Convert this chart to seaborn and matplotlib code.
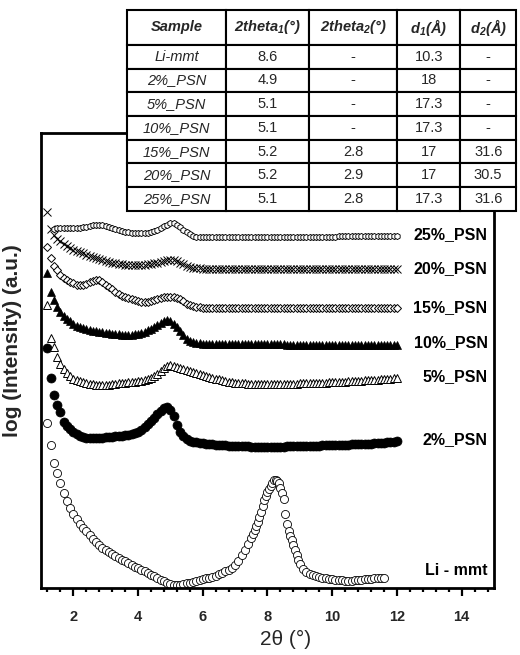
import numpy as np
import pandas as pd
import matplotlib
matplotlib.use("Agg")
import matplotlib.pyplot as plt
from matplotlib.ticker import MultipleLocator
import seaborn as sns

sns.set_theme(style="ticks")
plt.rcParams["font.family"] = ["Liberation Sans", "DejaVu Sans"]
plt.rcParams["mathtext.default"] = "regular"

# ---------------- XRD patterns (log intensity, stacked, a.u.) ----------------
li_x = np.round(np.r_[np.arange(1.2, 7.45, 0.1),
                      np.arange(7.5, 9.025, 0.05),
                      np.arange(9.1, 11.65, 0.1)], 2)
li_y = [16.5, 14.3, 12.5, 11.5, 10.5, 9.5, 8.7, 8.0, 7.4, 6.9,
        6.4, 6.0, 5.7, 5.3, 4.9, 4.6, 4.3, 4.0, 3.8, 3.6,
        3.4, 3.2, 3.0, 2.8, 2.7, 2.5, 2.3, 2.1, 2.0, 1.8,
        1.7, 1.5, 1.3, 1.2, 1.0, 0.8, 0.7, 0.5, 0.4, 0.3,
        0.3, 0.3, 0.4, 0.5, 0.5, 0.6, 0.7, 0.8, 0.9, 1.0,
        1.0, 1.1, 1.2, 1.4, 1.5, 1.7, 1.8, 2.0, 2.3, 2.7,
        3.3, 3.8, 4.4,
        5.0, 5.4, 5.8, 6.2, 6.6, 7.1, 7.6, 8.2, 8.8, 9.2,
        9.6, 9.9, 10.2, 10.5, 10.8, 10.8, 10.7, 10.5, 10.0, 9.5,
        8.9, 7.4, 6.4, 5.7, 5.2, 4.8, 4.3, 3.8, 3.3, 2.8, 2.4,
        1.9, 1.6, 1.4, 1.3, 1.2, 1.1, 1.0, 1.0, 0.9, 0.9,
        0.8, 0.8, 0.8, 0.7, 0.7, 0.7, 0.8, 0.8, 0.8, 0.9,
        0.9, 0.9, 1.0, 1.0, 1.0, 1.0]

grid_x = np.round(np.arange(1.2, 12.05, 0.1), 2)
grid25_x = np.round(np.arange(1.4, 12.05, 0.1), 2)

psn2_y = [24.0, 21.0, 19.3, 18.3, 17.6, 16.6, 16.2, 15.9, 15.6, 15.4,
          15.2, 15.1, 15.0, 15.0, 15.0, 15.0, 15.0, 15.0, 15.1, 15.1,
          15.1, 15.2, 15.2, 15.2, 15.3, 15.3, 15.4, 15.5, 15.6, 15.8,
          16.1, 16.4, 16.7, 17.0, 17.4, 17.7, 18.0, 18.1, 17.8, 17.2,
          16.3, 15.6, 15.2, 14.9, 14.7, 14.6, 14.6, 14.5, 14.5, 14.4,
          14.4, 14.4, 14.3, 14.3, 14.3, 14.3, 14.2, 14.2, 14.2, 14.2,
          14.2, 14.2, 14.2, 14.1, 14.1, 14.1, 14.1, 14.1, 14.1, 14.1,
          14.1, 14.1, 14.1, 14.1, 14.2, 14.2, 14.2, 14.2, 14.2, 14.2,
          14.2, 14.2, 14.2, 14.2, 14.2, 14.3, 14.3, 14.3, 14.3, 14.3,
          14.3, 14.3, 14.3, 14.3, 14.4, 14.4, 14.4, 14.4, 14.4, 14.4,
          14.4, 14.5, 14.5, 14.5, 14.5, 14.6, 14.6, 14.6, 14.7]

psn5_y = [28.3, 25.0, 24.1, 23.1, 22.4, 21.9, 21.5, 21.2, 20.9, 20.8,
          20.7, 20.6, 20.5, 20.4, 20.4, 20.3, 20.3, 20.3, 20.3, 20.3,
          20.4, 20.4, 20.5, 20.5, 20.5, 20.6, 20.6, 20.6, 20.7, 20.7,
          20.8, 20.9, 21.0, 21.2, 21.4, 21.7, 22.0, 22.2, 22.3, 22.2,
          22.1, 22.0, 21.9, 21.8, 21.7, 21.6, 21.5, 21.4, 21.3, 21.2,
          21.1, 21.0, 20.9, 20.9, 20.8, 20.7, 20.6, 20.6, 20.5, 20.5,
          20.5, 20.5, 20.4, 20.4, 20.4, 20.4, 20.4, 20.4, 20.4, 20.4,
          20.4, 20.4, 20.4, 20.4, 20.4, 20.4, 20.4, 20.4, 20.5, 20.5,
          20.5, 20.5, 20.5, 20.5, 20.5, 20.5, 20.5, 20.6, 20.6, 20.6,
          20.6, 20.6, 20.6, 20.7, 20.7, 20.7, 20.7, 20.7, 20.8, 20.8,
          20.8, 20.8, 20.8, 20.9, 20.9, 20.9, 20.9, 21.0, 21.0]

psn10_y = [31.5, 29.6, 28.8, 28.1, 27.6, 27.2, 26.9, 26.7, 26.4, 26.2,
           26.1, 26.0, 25.9, 25.8, 25.7, 25.7, 25.6, 25.6, 25.5, 25.5,
           25.4, 25.4, 25.4, 25.3, 25.3, 25.3, 25.3, 25.4, 25.4, 25.5,
           25.6, 25.8, 25.9, 26.1, 26.3, 26.5, 26.7, 26.8, 26.7, 26.4,
           26.1, 25.7, 25.3, 24.9, 24.7, 24.6, 24.5, 24.5, 24.4, 24.4,
           24.4, 24.4, 24.4, 24.4, 24.4, 24.4, 24.4, 24.4, 24.4, 24.4,
           24.4, 24.4, 24.4, 24.4, 24.4, 24.4, 24.4, 24.4, 24.4, 24.4,
           24.4, 24.4, 24.4, 24.4, 24.3, 24.3, 24.3, 24.3, 24.3, 24.3,
           24.3, 24.3, 24.3, 24.3, 24.3, 24.3, 24.3, 24.3, 24.3, 24.3,
           24.3, 24.3, 24.3, 24.3, 24.3, 24.3, 24.3, 24.3, 24.3, 24.3,
           24.3, 24.3, 24.3, 24.3, 24.3, 24.3, 24.3, 24.3, 24.3]

psn15_y = [34.1, 33.0, 32.2, 31.8, 31.3, 31.0, 30.8, 30.6, 30.5, 30.3,
           30.3, 30.3, 30.4, 30.6, 30.7, 30.8, 30.8, 30.6, 30.3, 30.1,
           29.9, 29.6, 29.4, 29.2, 29.1, 29.0, 28.9, 28.8, 28.7, 28.6,
           28.6, 28.6, 28.7, 28.8, 28.9, 29.0, 29.1, 29.1, 29.1, 29.1,
           29.0, 28.9, 28.7, 28.4, 28.3, 28.2, 28.1, 28.1, 28.0, 28.0,
           28.0, 28.0, 28.0, 28.0, 28.0, 28.0, 28.0, 28.0, 28.0, 28.0,
           28.0, 28.0, 28.0, 28.0, 28.0, 28.0, 28.0, 28.0, 28.0, 28.0,
           28.0, 28.0, 28.0, 28.0, 28.0, 28.0, 28.0, 28.0, 28.0, 28.0,
           28.0, 28.0, 28.0, 28.0, 28.0, 28.0, 28.0, 28.0, 28.0, 28.0,
           28.0, 28.0, 28.0, 28.0, 28.0, 28.0, 28.0, 28.0, 28.0, 28.0,
           28.0, 28.0, 28.0, 28.0, 28.0, 28.0, 28.0, 28.0, 28.0]

psn20_y = [37.6, 35.9, 35.3, 34.9, 34.7, 34.4, 34.2, 34.0, 33.8, 33.7,
           33.6, 33.5, 33.3, 33.2, 33.1, 33.0, 32.9, 32.8, 32.7, 32.6,
           32.5, 32.5, 32.4, 32.4, 32.3, 32.3, 32.3, 32.3, 32.3, 32.3,
           32.3, 32.4, 32.4, 32.5, 32.5, 32.6, 32.7, 32.8, 32.8, 32.8,
           32.7, 32.5, 32.4, 32.2, 32.1, 32.0, 32.0, 32.0, 31.9, 31.9,
           31.9, 31.9, 31.9, 31.9, 31.9, 31.9, 31.9, 31.9, 31.9, 31.9,
           31.9, 31.9, 31.9, 31.9, 31.9, 31.9, 31.9, 31.9, 31.9, 31.9,
           31.9, 31.9, 31.9, 31.9, 31.9, 31.9, 31.9, 31.9, 31.9, 31.9,
           31.9, 31.9, 31.9, 31.9, 31.9, 31.9, 31.9, 31.9, 31.9, 31.9,
           31.9, 31.9, 31.9, 31.9, 31.9, 31.9, 31.9, 31.9, 31.9, 31.9,
           31.9, 31.9, 31.9, 31.9, 31.9, 31.9, 31.9, 31.9, 31.9]

psn25_y = [35.9, 36.0, 36.0, 36.0, 36.0, 36.0, 36.0, 36.0, 36.0, 36.1,
           36.1, 36.2, 36.3, 36.3, 36.3, 36.3, 36.2, 36.1, 36.0, 35.9,
           35.8, 35.7, 35.6, 35.6, 35.5, 35.5, 35.5, 35.5, 35.5, 35.5,
           35.6, 35.7, 35.8, 36.0, 36.2, 36.3, 36.5, 36.5, 36.3, 36.1,
           35.8, 35.6, 35.4, 35.2, 35.1, 35.1, 35.1, 35.1, 35.1, 35.1,
           35.1, 35.1, 35.1, 35.1, 35.1, 35.1, 35.1, 35.1, 35.1, 35.1,
           35.1, 35.1, 35.1, 35.1, 35.1, 35.1, 35.1, 35.1, 35.1, 35.1,
           35.1, 35.1, 35.1, 35.1, 35.1, 35.1, 35.1, 35.1, 35.1, 35.1,
           35.1, 35.1, 35.1, 35.1, 35.1, 35.1, 35.1, 35.1, 35.2, 35.2,
           35.2, 35.2, 35.2, 35.2, 35.2, 35.2, 35.2, 35.2, 35.2, 35.2,
           35.2, 35.2, 35.2, 35.2, 35.2, 35.2, 35.2]

# curve label text and its vertical position (same units as the curves)
curve_labels = ["25%_PSN", "20%_PSN", "15%_PSN", "10%_PSN", "5%_PSN", "2%_PSN", "Li - mmt"]
label_y = [35.3, 31.9, 28.0, 24.5, 21.1, 14.8, 1.7]

# ---------------- summary table ----------------
col_labels = ["Sample", "2theta$_1$(°)", "2theta$_2$(°)", "d$_1$(Å)", "d$_2$(Å)"]
samples = ["Li-mmt", "2%_PSN", "5%_PSN", "10%_PSN", "15%_PSN", "20%_PSN", "25%_PSN"]
theta1 = ["8.6", "4.9", "5.1", "5.1", "5.2", "5.2", "5.1"]
theta2 = ["-", "-", "-", "-", "2.8", "2.9", "2.8"]
d1 = ["10.3", "18", "17.3", "17.3", "17", "17", "17.3"]
d2 = ["-", "-", "-", "-", "31.6", "30.5", "31.6"]

series = [
    (li_x, li_y, dict(marker="o", ms=5.8, mfc="white", mec="black", mew=0.6)),
    (grid_x, psn2_y, dict(marker="o", ms=6.5, mfc="black", mec="black", mew=0.5)),
    (grid_x, psn5_y, dict(marker="^", ms=6.2, mfc="white", mec="black", mew=0.7)),
    (grid_x, psn10_y, dict(marker="^", ms=6.2, mfc="black", mec="black", mew=0.5)),
    (grid_x, psn15_y, dict(marker="D", ms=4.2, mfc="white", mec="black", mew=0.7)),
    (grid_x, psn20_y, dict(marker="x", ms=5.2, mfc="black", mec="black", mew=0.7)),
    (grid25_x, psn25_y, dict(marker="h", ms=4.4, mfc="white", mec="black", mew=0.65)),
]

fig = plt.figure(figsize=(5.2, 6.55), dpi=100)
ax = fig.add_axes([0.0788, 0.1023, 0.8712, 0.6947])

for xs, ys, style in series:
    df = pd.DataFrame({"two_theta": xs, "log_i": ys})
    sns.lineplot(data=df, x="two_theta", y="log_i", ax=ax, estimator=None,
                 sort=False, linestyle="none", color="black", **style)

for text, yy in zip(curve_labels, label_y):
    ax.text(14.8, yy, text, ha="right", va="center", fontsize=11.5,
            fontweight="bold", color="black")

ax.set_xlim(1.0, 15.0)
ax.set_ylim(0, 45.5)
ax.xaxis.set_major_locator(MultipleLocator(2))
ax.xaxis.set_minor_locator(MultipleLocator(0.4))
ax.set_yticks([])
ax.tick_params(axis="x", which="major", direction="out", length=5.5, width=1.6,
               labelsize=10.5, pad=10, color="black")
ax.tick_params(axis="x", which="minor", direction="out", length=3, width=1.6,
               color="black")
for lab in ax.get_xticklabels():
    lab.set_fontweight("bold")
for sp in ax.spines.values():
    sp.set_visible(True)
    sp.set_linewidth(2.0)
    sp.set_color("black")

ax.set_xlabel("2θ (°)", fontsize=15)
ax.xaxis.set_label_coords(0.541, -0.092)
ax.set_ylabel("log (Intensity) (a.u.)", fontsize=15, fontweight="bold")
ax.yaxis.set_label_coords(-0.042, 0.543)

cell_text = [list(r) for r in zip(samples, theta1, theta2, d1, d2)]
col_w = [0.2545, 0.2134, 0.2262, 0.162, 0.144]
tab = ax.table(cellText=cell_text, colLabels=col_labels, colWidths=col_w,
               cellLoc="center", bbox=[0.19, 0.8286, 0.859, 0.4418])
tab.auto_set_font_size(False)
tab.set_zorder(10)
tab.set_clip_on(False)
for (r, c), cell in tab.get_celld().items():
    cell.set_clip_on(False)
    cell.set_edgecolor("black")
    cell.set_linewidth(1.5)
    cell.set_facecolor("white")
    cell.set_height(35 if r == 0 else 23.8)
    txt = cell.get_text()
    txt.set_fontsize(10.5)
    if r == 0:
        txt.set_fontweight("bold")
        txt.set_fontstyle("italic")
        txt.set_fontsize(10.5)
    elif c == 0:
        txt.set_fontstyle("italic")

fig.savefig("out.png", dpi=100)
